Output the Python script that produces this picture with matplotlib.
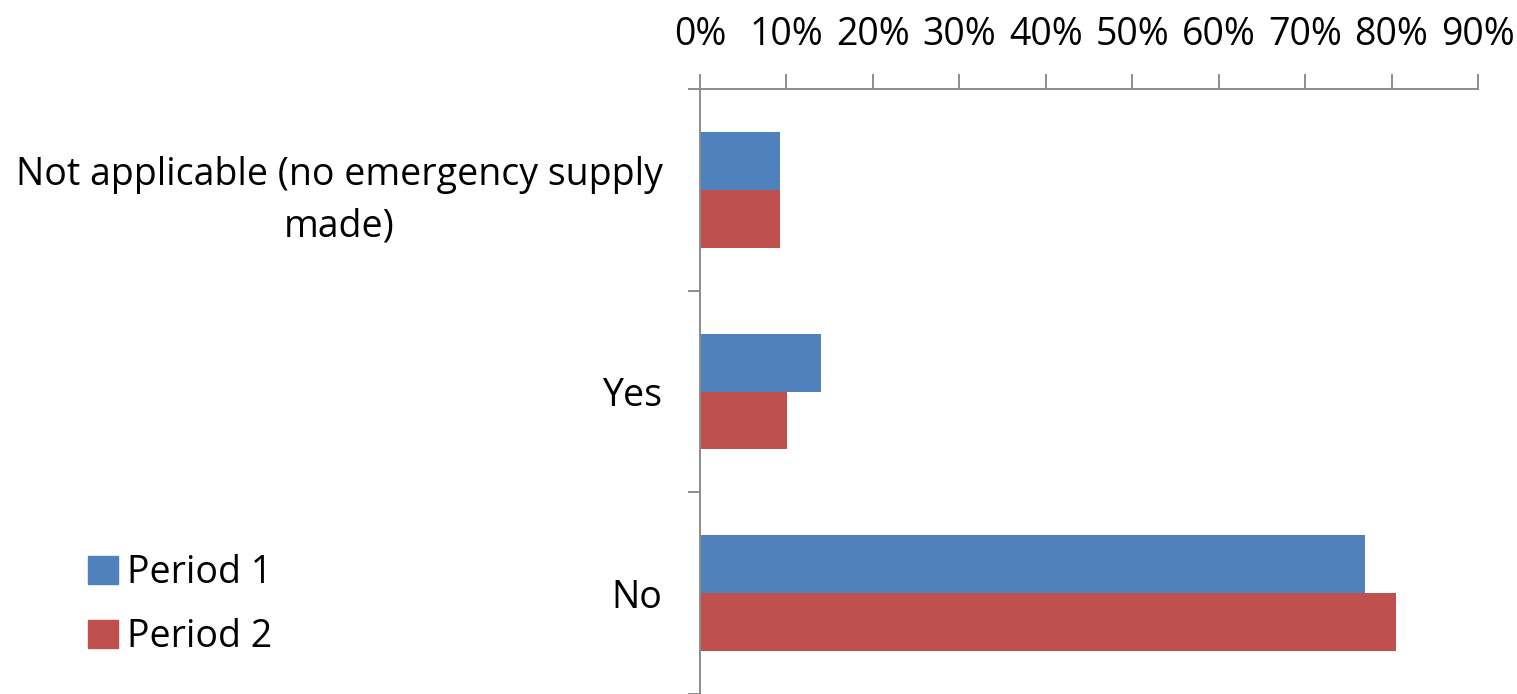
import matplotlib.pyplot as plt
from matplotlib.patches import Patch

categories = ['Not applicable (no emergency supply\nmade)', 'Yes', 'No']
period1 = [9.2, 14.0, 76.9]
period2 = [9.2, 10.1, 80.5]
series_names = ['Period 1', 'Period 2']
xticks = list(range(0, 91, 10))

blue = '#4F81BD'
red = '#C0504D'
axis_gray = '#8C8C8C'

plt.rcParams['font.family'] = ['Open Sans', 'DejaVu Sans']
fs = 27

fig = plt.figure(figsize=(15.17, 6.94), dpi=100)
ax = fig.add_axes([700 / 1517, 0.0, 778 / 1517, 1 - 89 / 694])

pos = list(range(len(categories)))
h = 0.287
ax.barh([p - h / 2 for p in pos], period1, height=h, color=blue, label=series_names[0])
ax.barh([p + h / 2 for p in pos], period2, height=h, color=red, label=series_names[1])

ax.set_xlim(0, 90)
ax.set_ylim(len(categories) - 0.5, -0.5)

# x axis on top
ax.xaxis.tick_top()
ax.set_xticks(xticks)
ax.set_xticklabels([f'{t}%' for t in xticks])
ax.tick_params(axis='x', direction='out', length=11, width=1.4, color=axis_gray,
               labelsize=fs, pad=14)

# category boundaries as major ticks, labels on minor ticks
ax.set_yticks([p + 0.5 for p in range(-1, len(categories))])
ax.set_yticklabels([])
ax.set_yticks(pos, minor=True)
ax.set_yticklabels(categories, minor=True, ha='right', multialignment='center',
                   linespacing=1.45)
ax.tick_params(axis='y', which='major', direction='out', length=9, width=1.4, color=axis_gray)
ax.tick_params(axis='y', which='minor', length=0, labelsize=fs, pad=27)

for side in ['right', 'bottom']:
    ax.spines[side].set_visible(False)
for side in ['left', 'top']:
    ax.spines[side].set_color(axis_gray)
    ax.spines[side].set_linewidth(1.4)

handles = [Patch(color=blue), Patch(color=red)]
fig.legend(handles, series_names, loc='center left',
           bbox_to_anchor=(88 / 1517, 1 - 605 / 694), frameon=False, fontsize=fs,
           handlelength=0.8, handleheight=0.8, handletextpad=0.25,
           labelspacing=0.7, borderpad=0, borderaxespad=0)

fig.savefig('out.png', dpi=100)
